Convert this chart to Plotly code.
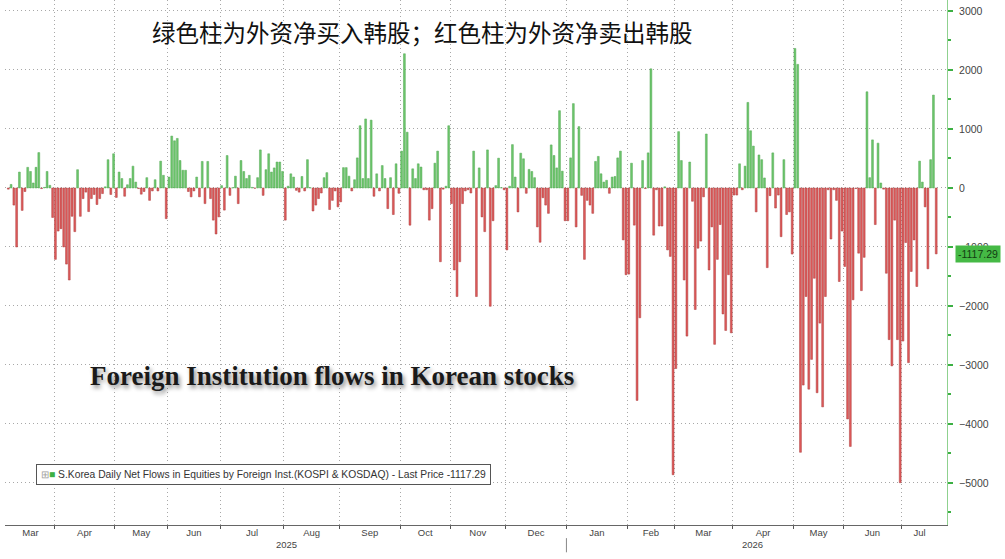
import numpy as np
import plotly.graph_objects as go

# ---------------- data (daily net flows, KRW bn) ----------------
month_names = ["Mar", "Apr", "May", "Jun", "Jul", "Aug", "Sep", "Oct", "Nov", "Dec",
               "Jan", "Feb", "Mar", "Apr", "May", "Jun", "Jul"]
month_years = [2025] * 10 + [2026] * 7

mar_2025 = [-20, 60, -290, -1000, 270, -380, -60, 350, 280, 85, 350, 600, -10, 10, 280, 45, -500]
apr_2025 = [-1210, -730, -690, -1000, -1290, -1560, -480, -740, 310, -480, -180, -70, -400, -180,
            -110, -280, -180, -95, 20, 480, -110, 580]
may_2025 = [-160, 270, 160, -140, 55, 160, 370, 100, -10, -105, -60, 175, -210, -50, 140, -50,
            455, 215, -520]
jun_2025 = [185, 880, 800, 840, 465, 300, 300, -60, -150, -50, 185, -150, 450, -265, 450, -180,
            -545, -780, -490]
jul_2025 = [40, -375, 550, -125, 5, 200, -265, 465, 280, 160, 215, 10, -5, 175, 645, -125, 310,
            580, 270, 340, 440, 440, 280]
aug_2025 = [-545, 30, 240, 185, -40, -70, 195, -50, 480, 5, -390, -290, -180, -85, 175, 260,
            -365, -210, -50, -320]
sep_2025 = [-235, 345, 345, 200, -50, 140, 510, 1055, 160, 1170, 160, 1150, -140, 240, -50, 380,
            160, -350, 175, -450, 410, -90]
oct_2025 = [625, 2275, 945, -630, 325, 160, 410, 355, -30, -30, -545, -350, 420, 625, -1250, -20,
            30, 1055]
nov_2025 = [-265, -1390, -1840, -1250, -265, -50, -30, -85, 625, -1840, 340, -490, -740, 645,
            -2005, -555, 40, 505, 5, -30]
dec_2025 = [-1050, 30, 735, 185, -405, 590, 495, -90, 315, 280, 175, -660, -920, -165, -290, -430,
            730, 550, 340, 1310, 285, -555]
jan_2026 = [-555, 510, 1430, -660, 1040, -125, -1210, -210, -290, -430, 450, 535, 240, 100, 130,
            -90, 185, 195, 510, 625, -880, -1470]
feb_2026 = [-1460, 420, -630, -3600, -2200, 465, -10, 595, 2020, -800, -30, -645, -645, 20, -1050,
            -1160, -4860]
mar_2026 = [-3060, 955, 465, -1560, -2510, 440, -225, -2060, -1020, -900, -150, 915, -1390, -660,
            -2650, -1210, -620, -2135, -2415, -1470, -2455]
apr_2026 = [-120, -120, 410, -30, 370, 1450, 970, 710, -405, 560, 480, 170, -1350, -130, 595, -340,
            -120, -825, 480, -450, -405, -1120]
may_2026 = [2365, 2095, -4480, -3340, -1840, -3410, -2905, -1530, -3470, -2290, -3710, -1840, -30,
            -865, -30, -210, -1585, -730]
jun_2026 = [-1330, -3915, -4380, -1895, -10, -1105, -1740, -1175, 1630, 175, 815, -620, 760, 85,
            -20, -1445, -2570, -3015, -545, -2570, -4995]
jul_2026 = [-2595, -925, -2960, -1415, -880, -1670, 455, 100, -320, -1370, 480, 1575, -1117.29]

monthly = [mar_2025, apr_2025, may_2025, jun_2025, jul_2025, aug_2025, sep_2025, oct_2025,
           nov_2025, dec_2025, jan_2026, feb_2026, mar_2026, apr_2026, may_2026, jun_2026, jul_2026]

last_price = jul_2026[-1]
series_name = "S.Korea Daily Net Flows in Equities by Foreign Inst.(KOSPI &amp; KOSDAQ)"
title_cn = "绿色柱为外资净买入韩股；红色柱为外资净卖出韩股"
title_en = "Foreign Institution flows in Korean stocks"

# ---------------- derived positions ----------------
values = np.concatenate([np.asarray(m, dtype=float) for m in monthly])
idx = np.arange(len(values))
counts = np.array([len(m) for m in monthly])
starts = np.concatenate([[0], np.cumsum(counts)[:-1]])
boundaries = starts[1:] - 0.5

x_lo = -1.2
x_hi = len(values) + 2.9
seg_lo = np.maximum(starts - 0.5, x_lo)
seg_hi = np.minimum(starts + counts - 0.5, x_hi)
centers = (seg_lo + seg_hi) / 2

GREEN_FILL, GREEN_LINE = "#6cc66c", "#55a855"
RED_FILL, RED_LINE = "#e05a5a", "#a83c3c"
fill = np.where(values >= 0, GREEN_FILL, RED_FILL)
edge = np.where(values >= 0, GREEN_LINE, RED_LINE)

GRID_DASH = "1px,3px"

fig = go.Figure()
fig.add_trace(go.Bar(
    x=idx, y=values,
    marker=dict(color=fill, line=dict(color=edge, width=0.5)),
    showlegend=False, xaxis="x", yaxis="y",
))
# invisible helper trace so month-label axis is drawn
fig.add_trace(go.Scatter(x=[x_lo, x_hi], y=[0, 0], mode="lines", line=dict(width=0),
                         hoverinfo="skip", showlegend=False, xaxis="x2", yaxis="y"))

fig.update_layout(
    width=1005, height=559,
    margin=dict(l=5, r=58, t=0, b=34),
    paper_bgcolor="white", plot_bgcolor="white",
    bargap=0.33,
    xaxis=dict(
        range=[x_lo, x_hi], tickmode="array", tickvals=boundaries, ticktext=[""] * len(boundaries),
        showgrid=True, gridcolor="#a8a8a8", griddash=GRID_DASH, gridwidth=1,
        showline=True, linecolor="#666", linewidth=1,
        ticks="outside", ticklen=3, tickcolor="#555", zeroline=False,
    ),
    xaxis2=dict(
        range=[x_lo, x_hi], overlaying="x", anchor="y", side="bottom",
        tickmode="array", tickvals=centers, ticktext=month_names,
        showgrid=False, showline=False, ticks="", zeroline=False,
        tickfont=dict(family="Liberation Sans", size=9.5, color="#444"),
    ),
    yaxis=dict(
        side="right", range=[-5712, 3186], dtick=1000, tick0=0,
        showgrid=True, gridcolor="#a8a8a8", griddash=GRID_DASH, gridwidth=1,
        zeroline=False, showline=True, linecolor="#8fd18f", linewidth=1,
        ticks="outside", ticklen=5, tickwidth=1.5, tickcolor="#3cb043",
        ticklabelstandoff=4,
        minor=dict(dtick=500, ticks="outside", ticklen=3, tickcolor="#3cb043", showgrid=False),
        tickfont=dict(family="Liberation Sans", size=10.5, color="#444"),
    ),
)

# year labels
year_list = sorted(set(month_years))
for yr in year_list:
    sel = [i for i, y in enumerate(month_years) if y == yr]
    lo = seg_lo[sel[0]]
    hi = seg_hi[sel[-1]]
    fig.add_annotation(x=(lo + hi) / 2, xref="x", y=-0.038, yref="paper", text=str(yr),
                       showarrow=False, yanchor="middle",
                       font=dict(family="Liberation Sans", size=9.5, color="#444"))
# year separator
sep_x = boundaries[month_years.index(2026) - 1]
fig.add_shape(type="line", x0=sep_x, x1=sep_x, xref="x", y0=-0.025, y1=-0.052, yref="paper",
              line=dict(color="#888", width=1))

# chinese title
fig.add_annotation(x=0.443, y=0.939, xref="paper", yref="paper", text=title_cn, showarrow=False,
                   xanchor="center", yanchor="middle",
                   font=dict(family="Noto Sans CJK SC", size=23.5, color="#111"))
# english title with shadow
fig.add_annotation(x=0.088, y=0.284, xref="paper", yref="paper", text="<b>" + title_en + "</b>",
                   showarrow=False, xanchor="left", yanchor="middle",
                   font=dict(family="Liberation Serif", size=27, color="#1a1a1a",
                             shadow="2px 3px 4px rgba(0,0,0,0.45)"))
# legend box
legend_text = ('<span style="color:#a0a0a0">⊞</span><span style="color:#3cb043">■</span> '
               + series_name + " - Last Price " + f"{last_price:.2f}")
fig.add_annotation(x=0.033, y=0.097, xref="paper", yref="paper", text=legend_text,
                   showarrow=False, xanchor="left", yanchor="middle",
                   bgcolor="white", bordercolor="#555", borderwidth=1, borderpad=4,
                   font=dict(family="Liberation Sans", size=10.3, color="#333"))
# last price tag
fig.add_annotation(x=1.0085, y=last_price, xref="paper", yref="y", text=f"{last_price:.2f}",
                   showarrow=False, xanchor="left", yanchor="middle",
                   bgcolor="#45b945", borderpad=2,
                   font=dict(family="Liberation Sans", size=10.5, color="#123d12"))

fig.write_html("out.html")
